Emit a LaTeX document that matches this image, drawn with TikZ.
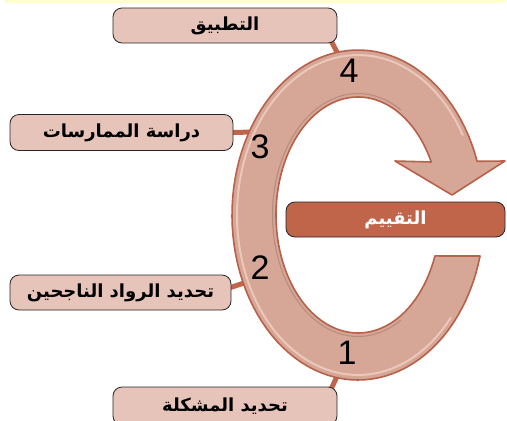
\documentclass[tikz,border=0pt]{standalone}
\usepackage{fontspec}
\newfontfamily\arabicfont[Script=Arabic]{DejaVu Sans}
\setsansfont{Liberation Sans}
\TeXXeTstate=1
\definecolor{ringfill}{HTML}{D6A696}
\definecolor{ringedge}{HTML}{B8614A}
\definecolor{ringlight}{HTML}{EBC8BC}
\definecolor{ringdark}{HTML}{9E7B72}
\definecolor{boxfill}{HTML}{E7C4BA}
\definecolor{terra}{HTML}{C0654A}
\definecolor{band}{HTML}{FFFFCC}
\begin{document}
\begin{tikzpicture}[x=1pt,y=-1pt,
  stage/.style={draw=black!85, line width=0.8pt, rounded corners=9pt, fill=boxfill,
    minimum width=224pt, minimum height=35pt, inner sep=0pt,
    font=\arabicfont\bfseries\fontsize{18}{20}\selectfont},
  evalbox/.style={stage, fill=terra, text=white, minimum width=219pt},
  link/.style={draw=terra, line width=5pt},
  num/.style={font=\sffamily\fontsize{34}{34}\selectfont, inner sep=0pt}]
\useasboundingbox (0,0) rectangle (507,421);
\fill[band] (5,0) rectangle (505,3);

% nodes (boxes) placed first for anchors, drawn later
\path (225,25.5) node[stage, draw=none, fill=none, text opacity=0] (b1) {\beginR التطبيق\endR};
\path (121.5,132.5) node[stage, draw=none, fill=none, text opacity=0, minimum width=223pt, minimum height=36pt] (b2) {\beginR دراسة الممارسات\endR};
\path (120.5,292.5) node[stage, draw=none, fill=none, text opacity=0, minimum width=221pt] (b3) {\beginR تحديد الرواد الناجحين\endR};
\path (225,406) node[stage, draw=none, fill=none, text opacity=0, minimum height=38pt] (b4) {\beginR تحديد المشكلة\endR};

\coordinate (c4) at (341,60);
\coordinate (c3) at (256,132);
\coordinate (c2) at (253,280);
\coordinate (c1) at (340,370);

% connectors
\draw[link] ([xshift=-7pt,yshift=4pt]b1.south east) -- (c4);
\draw[link] ([xshift=-4pt]b2.east) -- (c3);
\draw[link] ([xshift=-4pt,yshift=4pt]b3.east) -- (c2);
\draw[link] ([xshift=-7pt,yshift=-4pt]b4.north east) -- (c1);

% ring arrow
\path[fill=ringfill, draw=ringedge, line width=1.6pt, line join=round]
  plot[domain=14.4:341,samples=100,variable=\t] ({358+126*cos(\t)},{215+165*sin(\t)})
  -- (505,161) -- (452,195) -- (395,161)
  -- plot[domain=333.3:20.3,samples=100,variable=\t] ({358+82*cos(\t)},{215+118*sin(\t)})
  -- cycle;
\draw[ringlight, line width=2pt, line cap=round]
  plot[domain=40:330,samples=90,variable=\t] ({358+121*cos(\t)},{215+160*sin(\t)});
\draw[ringdark, line width=1pt, opacity=0.6, line cap=round]
  plot[domain=60:300,samples=90,variable=\t] ({358+85.5*cos(\t)},{215+121.5*sin(\t)});

% numbers
\node[num] (n4) at (349,71) {4};
\node[num] (n3) at (260,147) {3};
\node[num] (n2) at (260,268) {2};
\node[num] (n1) at (347,353) {1};

% boxes
\node[stage] at (b1) {\beginR التطبيق\endR};
\node[stage, minimum width=223pt, minimum height=36pt] at (b2) {\beginR دراسة الممارسات\endR};
\node[stage, minimum width=221pt] at (b3) {\beginR تحديد الرواد الناجحين\endR};
\node[stage, minimum height=38pt] at (b4) {\beginR تحديد المشكلة\endR};
\node[evalbox] (b5) at (395.5,219.5) {\beginR التقييم\endR};
\end{tikzpicture}
\end{document}
